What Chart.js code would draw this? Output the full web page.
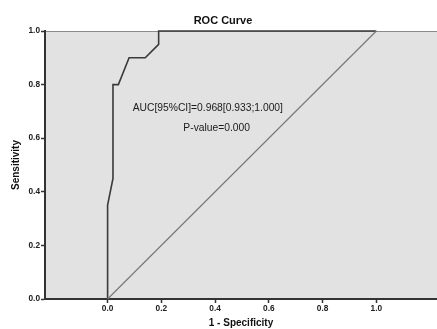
<!DOCTYPE html>
<html>
<head>
<meta charset="utf-8">
<script src="https://cdn.jsdelivr.net/npm/chart.js@4.4.1/dist/chart.umd.min.js"></script>
<style>
  html, body { margin: 0; padding: 0; background: #fff; }
  #wrap { width: 437px; height: 329px; }
</style>
</head>
<body>
<div id="wrap"><canvas id="roc" width="437" height="329"></canvas></div>
<script>
// ROC curve points
const fpr = [0, 0, 0.02, 0.02, 0.04, 0.08, 0.14, 0.19, 0.19, 1.0];
const sens = [0, 0.35, 0.45, 0.80, 0.80, 0.90, 0.90, 0.95, 1.0, 1.0];
// reference line
const refX = [0, 1];
const refY = [0, 1];
const tickVals = [0, 0.2, 0.4, 0.6, 0.8, 1.0];
const titulo = "ROC Curve";
const notas = ["AUC[95%CI]=0.968[0.933;1.000]", "P-value=0.000"];

const FONT = "'Liberation Sans', Arial, sans-serif";

// gray panel + top frame + title + text
const fondo = {
    id: "fondo",
    beforeDraw(chart) {
        const { ctx, chartArea: a } = chart;
        ctx.save();
        ctx.fillStyle = "#e2e2e2";
        ctx.fillRect(a.left, a.top, a.right - a.left, a.bottom - a.top);
        ctx.strokeStyle = "#8a8a8a";
        ctx.lineWidth = 1;
        ctx.beginPath();
        ctx.moveTo(a.left, a.top + 0.5);
        ctx.lineTo(a.right, a.top + 0.5);
        ctx.stroke();
        ctx.restore();
    },
    afterDraw(chart) {
        const { ctx, scales } = chart;
        ctx.save();
        ctx.fillStyle = "#111";
        ctx.font = "bold 11px " + FONT;
        ctx.textAlign = "center";
        ctx.textBaseline = "middle";
        ctx.fillText(titulo, 223, 21);

        ctx.font = "10.3px " + FONT;
        ctx.fillStyle = "#1a1a1a";
        ctx.fillText(notas[0], scales.x.getPixelForValue(0.373), scales.y.getPixelForValue(0.713));
        ctx.fillText(notas[1], scales.x.getPixelForValue(0.406), scales.y.getPixelForValue(0.638));
        ctx.restore();
    }
};

const ctx = document.getElementById("roc").getContext("2d");
new Chart(ctx, {
    type: "scatter",
    data: {
        datasets: [
            {
                data: refX.map((x, i) => ({ x: x, y: refY[i] })),
                showLine: true,
                borderColor: "#7a7a7a",
                borderWidth: 1.2,
                pointRadius: 0,
                clip: false,
            },
            {
                data: fpr.map((x, i) => ({ x: x, y: sens[i] })),
                showLine: true,
                borderColor: "#3a3a3a",
                borderWidth: 1.6,
                pointRadius: 0,
                clip: false,
            },
        ],
    },
    options: {
        responsive: false,
        animation: false,
        layout: { padding: { top: 31, left: 0, right: 0, bottom: 0 } },
        plugins: {
            legend: { display: false },
            tooltip: { enabled: false },
        },
        scales: {
            x: {
                type: "linear",
                min: -0.233,
                max: 1.226,
                afterFit: (s) => { s.height = 30; },
                afterBuildTicks: (s) => { s.ticks = tickVals.map((v) => ({ value: v })); },
                border: { display: true, color: "#333", width: 2 },
                grid: { drawOnChartArea: false, drawTicks: true, tickLength: 4, tickColor: "#333", tickWidth: 1.5 },
                ticks: {
                    color: "#222",
                    padding: 1,
                    maxRotation: 0,
                    font: { family: FONT, size: 8.3, weight: "bold" },
                    callback: (v) => Number(v).toFixed(1),
                },
                title: {
                    display: true,
                    text: "1 - Specificity",
                    color: "#111",
                    padding: 0,
                    font: { family: FONT, size: 10, weight: "bold" },
                },
            },
            y: {
                type: "linear",
                min: 0,
                max: 1,
                afterFit: (s) => { s.width = 45; },
                afterBuildTicks: (s) => { s.ticks = tickVals.map((v) => ({ value: v })); },
                border: { display: true, color: "#333", width: 2 },
                grid: { drawOnChartArea: false, drawTicks: true, tickLength: 4, tickColor: "#333", tickWidth: 1.5 },
                ticks: {
                    color: "#222",
                    padding: 1,
                    font: { family: FONT, size: 8.3, weight: "bold" },
                    callback: (v) => Number(v).toFixed(1),
                },
                title: {
                    display: true,
                    text: "Sensitivity",
                    color: "#111",
                    padding: { top: 10, bottom: 0 },
                    font: { family: FONT, size: 10, weight: "bold" },
                },
            },
        },
    },
    plugins: [fondo],
});
</script>
</body>
</html>
